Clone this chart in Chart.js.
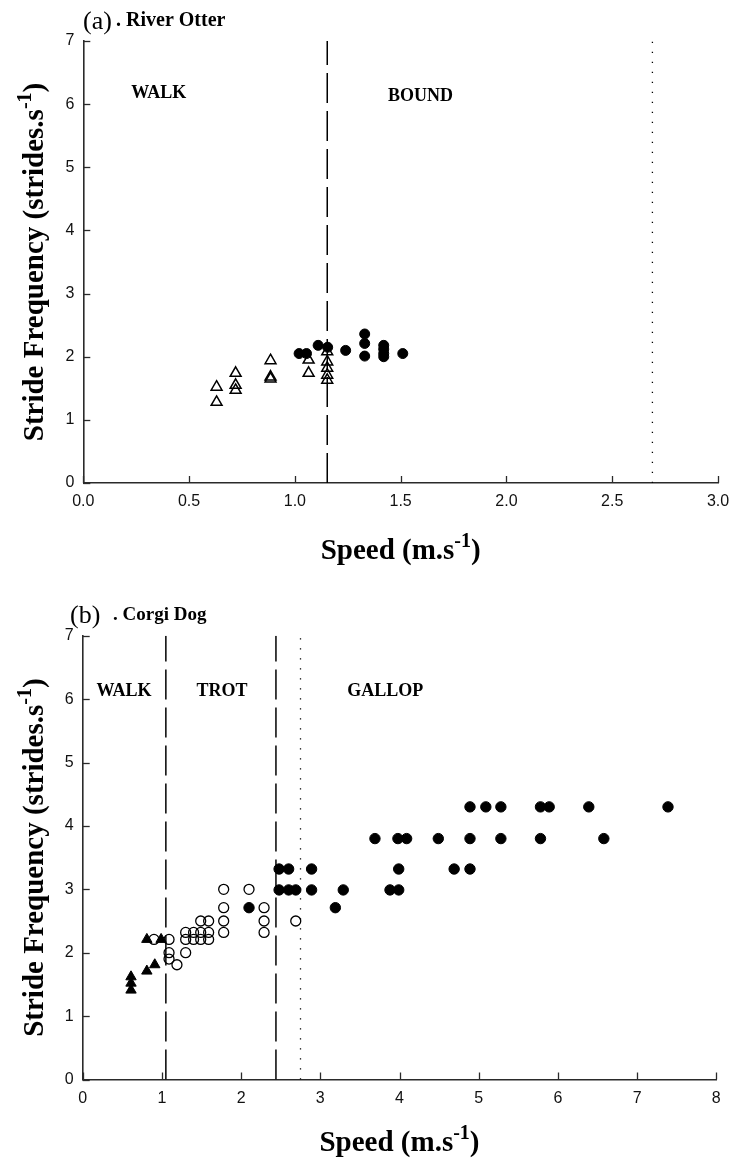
<!DOCTYPE html>
<html><head><meta charset="utf-8">
<script src="https://cdn.jsdelivr.net/npm/chart.js@4.4.1/dist/chart.umd.min.js"></script>
<style>
html,body{margin:0;padding:0;background:#fff;}
#wrap{position:relative;width:729px;height:1166px;overflow:hidden;}
canvas{position:absolute;left:0;}
#ca{top:0}
#cb{top:583px}
</style></head><body>
<div id="wrap"><canvas id="ca" width="729" height="583"></canvas><canvas id="cb" width="729" height="583"></canvas></div>
<script>
// ---------- Panel (a) River Otter ----------
const otterWalkSpeed = [0.63,0.63,0.72,0.72,0.72,0.885,0.885,0.885,1.065,1.065,1.153,1.153,1.153,1.153,1.153];
const otterWalkFreq  = [1.52,1.28,1.74,1.55,1.47,1.94,1.68,1.65,1.95,1.74,2.08,1.92,1.82,1.71,1.63];
const otterBoundSpeed = [1.02,1.055,1.11,1.155,1.24,1.33,1.33,1.33,1.42,1.42,1.42,1.42,1.51];
const otterBoundFreq  = [2.05,2.05,2.18,2.15,2.10,2.36,2.21,2.01,2.18,2.12,2.05,2.00,2.05];
const otterTransition = [1.153];
const otterLimit = [2.69];
const otterXTicks = [0,0.5,1,1.5,2,2.5,3];
const otterRegions = ['WALK','BOUND'];

// ---------- Panel (b) Corgi Dog ----------
const corgiWalkSpeed = [0.61,0.61,0.61,0.81,0.91,0.81,0.99];
const corgiWalkFreq  = [1.62,1.52,1.41,1.71,1.81,2.21,2.21];
const corgiTrotSpeed = [0.90,1.09,1.09,1.09,1.19,1.30,1.30,1.30,1.40,1.40,1.49,1.49,1.49,1.59,1.59,1.59,1.78,1.78,1.78,1.78,2.10,2.29,2.29,2.29,2.69];
const corgiTrotFreq  = [2.21,2.21,2.00,1.90,1.81,2.00,2.32,2.21,2.32,2.21,2.50,2.32,2.21,2.50,2.32,2.21,3.00,2.71,2.50,2.32,3.00,2.71,2.50,2.32,2.50];
const corgiGallopSpeed = [2.10,2.48,2.60,2.48,2.60,2.69,2.89,2.89,
  4.89,5.09,5.28,5.78,5.89,6.39,7.39,
  3.69,3.98,4.09,4.49,4.89,5.28,5.78,6.58,
  3.99,4.69,4.89,
  3.29,3.88,3.99,
  3.19];
const corgiGallopFreq = [2.71,3.32,3.32,2.99,2.99,2.99,3.32,2.99,
  4.30,4.30,4.30,4.30,4.30,4.30,4.30,
  3.80,3.80,3.80,3.80,3.80,3.80,3.80,3.80,
  3.32,3.32,3.32,
  2.99,2.99,2.99,
  2.71];
const corgiTransitions = [1.05,2.44];
const corgiLimit = [2.75];
const corgiXTicks = [0,1,2,3,4,5,6,7,8];
const corgiRegions = ['WALK','TROT','GALLOP'];

const yTicks = [0,1,2,3,4,5,6,7];
const yRange = [0,7];

const pts = (xs, ys) => xs.map((v,i) => ({x:v, y:ys[i]}));
const vline = (v) => [{x:v,y:yRange[0]},{x:v,y:yRange[1]}];

const AXIS = '#2a2a2a';
const SERIF = '"Liberation Serif","Times New Roman",serif';
const SANS = '"Liberation Sans",Arial,sans-serif';

function drawParts(ctx, parts, cx, base) {
  let total = 0;
  parts.forEach(p => { ctx.font = p.font; p.w = ctx.measureText(p.t).width; total += p.w; });
  let x = cx - total/2;
  ctx.textAlign = 'left'; ctx.textBaseline = 'alphabetic';
  parts.forEach(p => { ctx.font = p.font; ctx.fillText(p.t, x, base - (p.rise||0)); x += p.w; });
}

const decoPlugin = {
  id: 'deco',
  afterDraw(chart, args, o) {
    const ctx = chart.ctx, xs = chart.scales.x, ys = chart.scales.y;
    ctx.save();
    // inward tick marks
    ctx.strokeStyle = AXIS; ctx.lineWidth = 1.3;
    xs.ticks.forEach(t => { const p = Math.round(xs.getPixelForValue(t.value))+0.5;
      ctx.beginPath(); ctx.moveTo(p, ys.bottom); ctx.lineTo(p, ys.bottom-7); ctx.stroke(); });
    ys.ticks.forEach(t => { const p = Math.round(ys.getPixelForValue(t.value))+0.5;
      ctx.beginPath(); ctx.moveTo(xs.left, p); ctx.lineTo(xs.left+7, p); ctx.stroke(); });
    ctx.fillStyle = '#000';
    // panel title
    ctx.textAlign='left'; ctx.textBaseline='alphabetic';
    ctx.font = '26px ' + SERIF; ctx.fillText(o.panel, o.panelX, o.panelBase);
    ctx.font = 'bold ' + o.nameSize + 'px ' + SERIF; ctx.fillText(o.name, o.nameX, o.nameBase);
    // region labels
    ctx.font = 'bold 18px ' + SERIF; ctx.textAlign='center'; ctx.textBaseline='middle';
    o.regions.forEach((r,i) => ctx.fillText(r, xs.getPixelForValue(o.regionX[i]), ys.getPixelForValue(o.regionY[i])));
    // x title
    drawParts(ctx, [
      {t:'Speed (m.s', font:'bold 29px '+SERIF},
      {t:'-1', font:'bold 20px '+SERIF, rise:12},
      {t:')', font:'bold 29px '+SERIF}], (xs.left+xs.right)/2, o.xTitleBase);
    // y title
    ctx.translate(o.yTitleBase, (ys.top+ys.bottom)/2);
    ctx.rotate(-Math.PI/2);
    drawParts(ctx, [
      {t:'Stride Frequency (strides.s', font:'bold 29px '+SERIF},
      {t:'-1', font:'bold 20px '+SERIF, rise:12},
      {t:')', font:'bold 29px '+SERIF}], 0, 0);
    ctx.restore();
  }
};

function makeChart(id, cfg) {
  const datasets = [];
  cfg.dashed.forEach(v => datasets.push({data: vline(v), showLine:true, pointRadius:0, borderColor:'#000', borderWidth:1.5, borderDash:[30,8]}));
  cfg.dotted.forEach(v => datasets.push({data: vline(v), showLine:true, pointRadius:0, borderColor:'#000', borderWidth:1.3, borderDash:[1.3,8.7]}));
  cfg.series.forEach(s => datasets.push(Object.assign({showLine:false}, s)));
  return new Chart(document.getElementById(id), {
    type: 'scatter',
    data: {datasets},
    plugins: [decoPlugin],
    options: {
      responsive:false, animation:false, devicePixelRatio:1,
      layout: {padding: {top: cfg.top, right: cfg.right, left:0, bottom:0}},
      plugins: {legend:{display:false}, tooltip:{enabled:false}, deco: cfg.deco},
      scales: {
        x: {type:'linear', min:cfg.xMin, max:cfg.xMax,
            afterBuildTicks: s => { s.ticks = cfg.xTicks.map(v => ({value:v})); },
            afterFit: s => { s.height = cfg.xHeight; s.paddingRight = 0; s.paddingLeft = 0; },
            grid:{display:false, drawTicks:false},
            border:{display:true, color:AXIS, width:1.6},
            ticks:{font:{family:SANS, size:16}, color:'#111', padding:9, maxRotation:0, autoSkip:false,
                   callback: v => cfg.xFmt(v)}},
        y: {type:'linear', min:yRange[0], max:yRange[1],
            afterBuildTicks: s => { s.ticks = yTicks.map(v => ({value:v})); },
            afterFit: s => { s.width = cfg.yWidth; },
            grid:{display:false, drawTicks:false},
            border:{display:true, color:AXIS, width:1.6},
            ticks:{font:{family:SANS, size:16}, color:'#111', padding:9, autoSkip:false}}
      }
    }
  });
}

makeChart('ca', {
  top:41, right:11, xHeight:100, yWidth:83.3, xMin:0, xMax:3, xTicks:otterXTicks,
  xFmt: v => Number(v).toFixed(1),
  dashed: otterTransition, dotted: otterLimit,
  series: [
    {data: pts(otterWalkSpeed, otterWalkFreq), pointStyle:'triangle', pointRadius:6.3, backgroundColor:'rgba(0,0,0,0)', borderColor:'#000', borderWidth:1.5},
    {data: pts(otterBoundSpeed, otterBoundFreq), pointStyle:'circle', pointRadius:5, backgroundColor:'#000', borderColor:'#000', borderWidth:1}
  ],
  deco: {panel:'(a)', panelX:83, panelBase:29, name:'. River Otter', nameSize:20, nameX:116, nameBase:25.5,
         regions: otterRegions, regionX:[0.357,1.594], regionY:[6.17,6.12], xTitleBase:559, yTitleBase:43}
});

makeChart('cb', {
  top:52.7, right:12.7, xHeight:86.5, yWidth:82.7, xMin:0, xMax:8, xTicks:corgiXTicks,
  xFmt: v => String(v),
  dashed: corgiTransitions, dotted: corgiLimit,
  series: [
    {data: pts(corgiWalkSpeed, corgiWalkFreq), pointStyle:'triangle', pointRadius:6, backgroundColor:'#000', borderColor:'#000', borderWidth:1},
    {data: pts(corgiTrotSpeed, corgiTrotFreq), pointStyle:'circle', pointRadius:5, backgroundColor:'rgba(0,0,0,0)', borderColor:'#000', borderWidth:1.3},
    {data: pts(corgiGallopSpeed, corgiGallopFreq), pointStyle:'circle', pointRadius:5.2, backgroundColor:'#000', borderColor:'#000', borderWidth:1}
  ],
  deco: {panel:'(b)', panelX:70, panelBase:40, name:'. Corgi Dog', nameSize:19, nameX:113, nameBase:36.5,
         regions: corgiRegions, regionX:[0.52,1.76,3.82], regionY:[6.13,6.13,6.13], xTitleBase:568, yTitleBase:43}
});
</script>
</body></html>
